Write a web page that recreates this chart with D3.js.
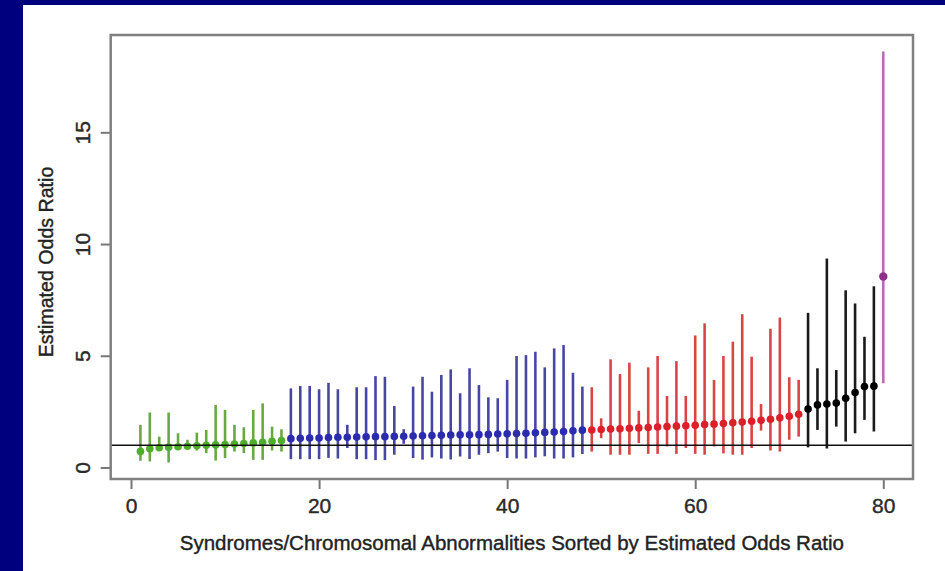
<!DOCTYPE html>
<html>
<head>
<meta charset="utf-8">
<title>Estimated Odds Ratio by Syndrome</title>
<script src="https://cdn.jsdelivr.net/npm/d3@7/dist/d3.min.js"></script>
<style>
  body { margin: 0; background: #00007f; }
  svg { display: block; font-family: "Liberation Sans", Arial, sans-serif; }
</style>
</head>
<body>
<svg id="chart" width="945" height="571"></svg>
<script>
// items sorted by estimated odds ratio, index 1..80
var groupCounts = [16, 32, 23, 8, 1];

var estimate = [
  // green
  0.72, 0.84, 0.88, 0.91, 0.93, 0.95, 0.97, 0.99, 1.01, 1.03, 1.05, 1.07, 1.10, 1.13, 1.17, 1.21,
  // blue
  1.29, 1.31, 1.32, 1.32, 1.34, 1.35, 1.35, 1.36, 1.37, 1.38, 1.38, 1.39, 1.40, 1.41, 1.42, 1.43,
  1.44, 1.45, 1.46, 1.46, 1.47, 1.48, 1.50, 1.51, 1.52, 1.53, 1.55, 1.57, 1.59, 1.61, 1.64, 1.67,
  // red
  1.68, 1.70, 1.72, 1.73, 1.75, 1.77, 1.79, 1.81, 1.83, 1.85, 1.87, 1.89, 1.92, 1.94, 1.97, 2.00,
  2.03, 2.07, 2.11, 2.16, 2.22, 2.29, 2.38,
  // black
  2.62, 2.80, 2.84, 2.88, 3.10, 3.35, 3.62, 3.64,
  // purple
  8.55
];

var lower = [
  0.30, 0.27, 0.87, 0.22, 0.79, 0.87, 0.76, 0.64, 0.31, 0.42, 0.71, 0.64, 0.34, 0.34, 0.76, 0.71,
  0.37, 0.37, 0.37, 0.37, 0.43, 0.40, 0.87, 0.37, 0.37, 0.33, 0.33, 0.57, 1.06, 0.42, 0.35, 0.45,
  0.40, 0.36, 0.49, 0.38, 0.57, 0.64, 0.71, 0.42, 0.40, 0.40, 0.45, 0.50, 0.40, 0.40, 0.45, 0.60,
  0.71, 1.31, 0.57, 0.57, 0.57, 1.09, 0.61, 0.61, 0.94, 0.61, 0.87, 0.61, 0.57, 0.94, 0.63, 0.57,
  0.57, 0.87, 1.65, 0.76, 0.71, 1.24, 1.38,
  0.90, 1.68, 0.85, 1.83, 1.16, 1.53, 2.13, 1.61,
  3.77
];

var upper = [
  1.91, 2.46, 1.38, 2.46, 1.53, 1.24, 1.56, 1.68, 2.80, 2.58, 1.91, 1.80, 2.58, 2.87, 1.83, 1.71,
  3.54, 3.65, 3.65, 3.50, 3.79, 3.50, 1.91, 3.59, 3.59, 4.09, 4.06, 2.75, 1.71, 3.62, 4.06, 3.39,
  4.14, 4.39, 3.32, 4.44, 3.69, 3.14, 3.10, 3.92, 4.99, 5.03, 5.18, 4.48, 5.33, 5.48, 4.24, 3.62,
  3.59, 2.20, 4.84, 4.18, 4.69, 2.54, 4.48, 4.99, 3.20, 4.76, 3.20, 5.91, 6.45, 3.92, 4.99, 5.63,
  6.86, 4.96, 2.84, 6.21, 6.71, 4.04, 3.92,
  6.92, 4.44, 9.35, 4.36, 7.93, 7.34, 5.85, 8.11,
  18.62
];

var xTicks = [0, 20, 40, 60, 80];
var yTicks = [0, 5, 10, 15];
var refLine = 1;
var xLabel = "Syndromes/Chromosomal Abnormalities Sorted by Estimated Odds Ratio";
var yLabel = "Estimated Odds Ratio";

// styling
var lineColors = ["#6aa843", "#4747a3", "#d94444", "#1a1a1a", "#b46fb4"];
var dotColors = ["#4eae2c", "#2b2bb0", "#dd1f2a", "#000000", "#8e2f8e"];

var svg = d3.select("#chart");
var box = { left: 110.7, right: 913, top: 35, bottom: 479 };

// white panel
svg.append("rect")
  .attr("x", 23).attr("y", 5)
  .attr("width", 945 - 23).attr("height", 571 - 5)
  .attr("fill", "#ffffff");

// build rows
var rows = [];
var k = 0;
groupCounts.forEach(function (n, g) {
  for (var i = 0; i < n; i++) {
    rows.push({ idx: k + 1, est: estimate[k], lo: lower[k], hi: upper[k], g: g });
    k++;
  }
});

// R style 4% padding
function pad(ext) {
  var d = (ext[1] - ext[0]) * 0.04;
  return [ext[0] - d, ext[1] + d];
}

var x = d3.scaleLinear()
  .domain(pad(d3.extent(rows, function (d) { return d.idx; })))
  .range([box.left, box.right]);

var y = d3.scaleLinear()
  .domain(pad([d3.min(lower), d3.max(upper)]))
  .range([box.bottom, box.top]);

var plot = svg.append("g");

// confidence intervals
plot.selectAll("line.ci")
  .data(rows)
  .enter()
  .append("line")
  .attr("class", "ci")
  .attr("x1", function (d) { return x(d.idx); })
  .attr("x2", function (d) { return x(d.idx); })
  .attr("y1", function (d) { return y(d.lo); })
  .attr("y2", function (d) { return y(d.hi); })
  .attr("stroke", function (d) { return lineColors[d.g]; })
  .attr("stroke-width", 2.6);

// point estimates
plot.selectAll("circle.est")
  .data(rows)
  .enter()
  .append("circle")
  .attr("class", "est")
  .attr("cx", function (d) { return x(d.idx); })
  .attr("cy", function (d) { return y(d.est); })
  .attr("r", function (d) { return d.g === 4 ? 4.2 : 3.8; })
  .attr("fill", function (d) { return dotColors[d.g]; });

// reference line at OR = 1
plot.append("line")
  .attr("x1", box.left).attr("x2", box.right)
  .attr("y1", y(refLine)).attr("y2", y(refLine))
  .attr("stroke", "#111")
  .attr("stroke-width", 1.5);

// axes
var xAxis = svg.append("g")
  .attr("transform", "translate(0," + box.bottom + ")")
  .call(d3.axisBottom(x).tickValues(xTicks).tickSize(10).tickPadding(8));

var yAxis = svg.append("g")
  .attr("transform", "translate(" + box.left + ",0)")
  .call(d3.axisLeft(y).tickValues(yTicks).tickSize(10));

[xAxis, yAxis].forEach(function (a) {
  a.select(".domain").remove();
  a.selectAll(".tick line").attr("stroke", "#777").attr("stroke-width", 2);
  a.selectAll(".tick text")
    .attr("fill", "#2a2a2a")
    .attr("stroke", "#2a2a2a")
    .attr("stroke-width", 0.4)
    .style("font-size", "21px")
    .style("font-family", "'Liberation Sans', Arial, sans-serif");
});

xAxis.selectAll(".tick text").attr("y", 34).attr("dy", null);

yAxis.selectAll(".tick text")
  .attr("transform", "rotate(-90)")
  .attr("x", 0)
  .attr("y", -21)
  .attr("dy", null)
  .style("text-anchor", "middle");

// plot box
svg.append("rect")
  .attr("x", box.left).attr("y", box.top)
  .attr("width", box.right - box.left)
  .attr("height", box.bottom - box.top)
  .attr("fill", "none")
  .attr("stroke", "#808080")
  .attr("stroke-width", 2.5);

// axis titles
svg.append("text")
  .attr("x", (box.left + box.right) / 2)
  .attr("y", 550)
  .attr("text-anchor", "middle")
  .attr("fill", "#222")
  .attr("stroke", "#222")
  .attr("stroke-width", 0.4)
  .style("font-size", "20.5px")
  .text(xLabel);

svg.append("text")
  .attr("transform", "translate(53," + ((box.top + box.bottom) / 2 + 5) + ") rotate(-90)")
  .attr("text-anchor", "middle")
  .attr("fill", "#222")
  .attr("stroke", "#222")
  .attr("stroke-width", 0.4)
  .style("font-size", "19.6px")
  .text(yLabel);
</script>
</body>
</html>
